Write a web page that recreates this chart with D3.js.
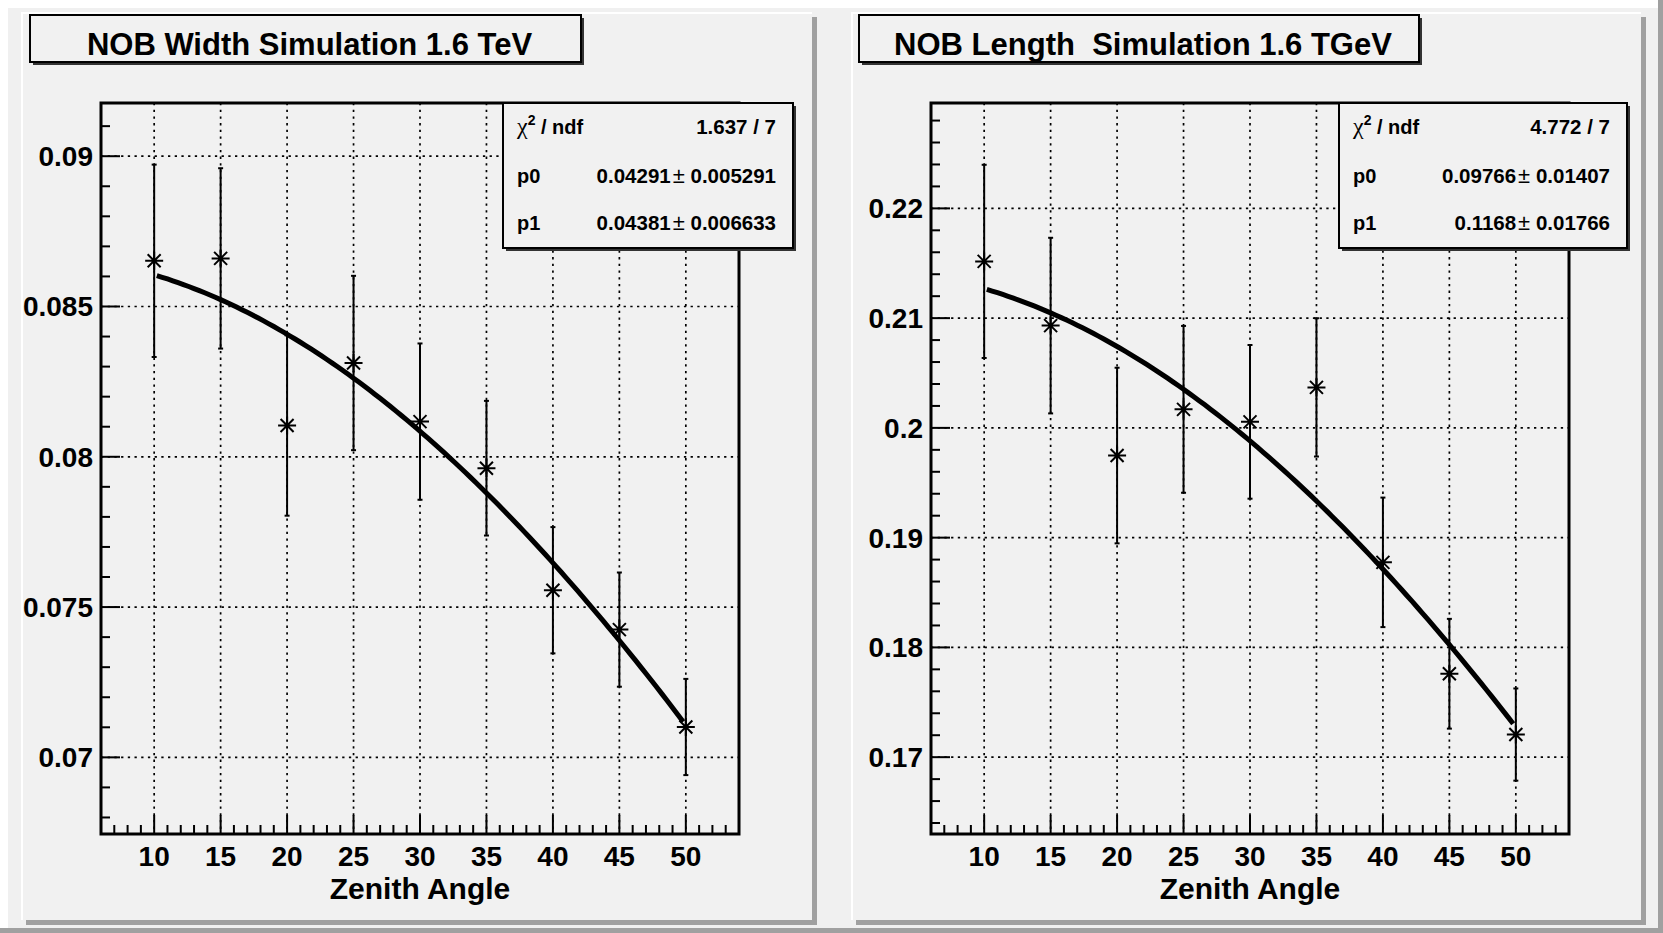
<!DOCTYPE html>
<html>
<head>
<meta charset="utf-8">
<script src="https://cdn.jsdelivr.net/npm/d3@7"></script>
<style>
  body { margin: 0; background: #ffffff; }
  text { font-family: "Liberation Sans", Arial, sans-serif; font-weight: bold; fill: #000; }
</style>
</head>
<body>
<svg id="chart" width="1663" height="933"></svg>
<script>
// zenith angles (deg) and tick labels
const angles = [10, 15, 20, 25, 30, 35, 40, 45, 50];
const xTickLabels = [10, 15, 20, 25, 30, 35, 40, 45, 50];

// NOB width
const widthValues = [0.08652, 0.08660, 0.08104, 0.08312, 0.08117, 0.07962, 0.07556, 0.07425, 0.07101];
const widthErrors = [0.0032, 0.0030, 0.0030, 0.0029, 0.0026, 0.00224, 0.0021, 0.0019, 0.0016];
const widthYTicks = [0.07, 0.075, 0.08, 0.085, 0.09];
const widthFitPars = [0.04291, 0.04381];   // p0 + p1*cos(theta)
const widthStats = [["1.637 / 7"], ["0.04291", "0.005291"], ["0.04381", "0.006633"]];

// NOB length
const lengthValues = [0.21517, 0.20932, 0.19748, 0.20169, 0.20055, 0.20369, 0.18775, 0.17760, 0.17206];
const lengthErrors = [0.0088, 0.0080, 0.0080, 0.0076, 0.0070, 0.0063, 0.0059, 0.0050, 0.0042];
const lengthYTicks = [0.17, 0.18, 0.19, 0.2, 0.21, 0.22];
const lengthFitPars = [0.09766, 0.1168];
const lengthStats = [["4.772 / 7"], ["0.09766", "0.01407"], ["0.1168", "0.01766"]];

const svg = d3.select("#chart");
const W = 1663, H = 933;

// canvas with bevel
svg.append("rect").attr("width", W).attr("height", H).attr("fill", "#f0f0f0");
svg.append("rect").attr("width", W).attr("height", 8).attr("fill", "#ffffff");
svg.append("rect").attr("width", 8).attr("height", H).attr("fill", "#ffffff");
svg.append("rect").attr("x", 0).attr("y", H - 5).attr("width", W).attr("height", 5).attr("fill", "#a0a0a0");
svg.append("rect").attr("x", W - 5).attr("y", 0).attr("width", 5).attr("height", H).attr("fill", "#a0a0a0");

function drawPanel(cfg) {
    let g = svg.append("g");
    let pad = cfg.pad;

    // pad with bevel
    g.append("rect").attr("x", pad.x + 5).attr("y", pad.y + 5).attr("width", pad.w).attr("height", pad.h).attr("fill", "#a0a0a0");
    g.append("rect").attr("x", pad.x).attr("y", pad.y).attr("width", pad.w).attr("height", pad.h).attr("fill", "#f1f1f1");
    g.append("path").attr("d", `M${pad.x + 1},${pad.y + pad.h}V${pad.y + 1}H${pad.x + pad.w}`)
        .attr("fill", "none").attr("stroke", "#ffffff").attr("stroke-width", 2);

    // title box
    let tb = cfg.titleBox;
    g.append("rect").attr("x", tb.x + 3).attr("y", tb.y + 3).attr("width", tb.w).attr("height", tb.h).attr("fill", "#333");
    g.append("rect").attr("x", tb.x).attr("y", tb.y).attr("width", tb.w).attr("height", tb.h)
        .attr("fill", "#f1f1f1").attr("stroke", "#000").attr("stroke-width", 2);
    g.append("text").attr("x", tb.x + tb.w / 2 + 4).attr("y", tb.y + 40)
        .attr("text-anchor", "middle").style("font-size", "31px").style("white-space", "pre")
        .text(cfg.title);

    let f = cfg.frame;
    let xScale = d3.scaleLinear().domain([6, 54]).range([f.x, f.x + f.w]);
    let yScale = d3.scaleLinear().domain(cfg.yDomain).range([f.y + f.h, f.y]);

    // grid (dotted)
    g.selectAll(".gx").data(xTickLabels).join("line")
        .attr("x1", d => xScale(d)).attr("x2", d => xScale(d))
        .attr("y1", f.y).attr("y2", f.y + f.h)
        .attr("stroke", "#000").attr("stroke-width", 1.7).attr("stroke-dasharray", "2.3,4.4");
    g.selectAll(".gy").data(cfg.yTicks).join("line")
        .attr("x1", f.x).attr("x2", f.x + f.w)
        .attr("y1", d => yScale(d)).attr("y2", d => yScale(d))
        .attr("stroke", "#000").attr("stroke-width", 1.7).attr("stroke-dasharray", "2.3,4.4");

    // minor + major ticks (inward)
    let xMinor = xScale.ticks(48);
    g.selectAll(".tx").data(xMinor).join("line")
        .attr("x1", d => xScale(d)).attr("x2", d => xScale(d))
        .attr("y1", f.y + f.h).attr("y2", d => f.y + f.h - (d % 5 === 0 ? 19 : 9))
        .attr("stroke", "#000").attr("stroke-width", 2);
    let yMinor = yScale.ticks(cfg.minorCount);
    g.selectAll(".ty").data(yMinor).join("line")
        .attr("x1", f.x).attr("x2", d => f.x + (cfg.yTicks.some(t => Math.abs(t - d) < 1e-9) ? 19 : 9))
        .attr("y1", d => yScale(d)).attr("y2", d => yScale(d))
        .attr("stroke", "#000").attr("stroke-width", 2);

    // frame
    g.append("rect").attr("x", f.x).attr("y", f.y).attr("width", f.w).attr("height", f.h)
        .attr("fill", "none").attr("stroke", "#000").attr("stroke-width", 3);

    // tick labels
    g.selectAll(".lx").data(xTickLabels).join("text")
        .attr("x", d => xScale(d)).attr("y", f.y + f.h + 32)
        .attr("text-anchor", "middle").style("font-size", "28px")
        .text(d => d);
    g.selectAll(".ly").data(cfg.yTicks).join("text")
        .attr("x", f.x - 8).attr("y", d => yScale(d) + 10)
        .attr("text-anchor", "end").style("font-size", "28px")
        .text(d => String(d));

    // axis title
    g.append("text").attr("x", f.x + f.w / 2).attr("y", f.y + f.h + 65)
        .attr("text-anchor", "middle").style("font-size", "30px")
        .text("Zenith Angle");

    // fit curve p0 + p1*cos(theta)
    let p0 = cfg.fit[0], p1 = cfg.fit[1];
    let fitX = d3.range(10.2, 49.81, 0.4);
    let line = d3.line()
        .x(d => xScale(d))
        .y(d => yScale(p0 + p1 * Math.cos(d * Math.PI / 180)));

    // error bars
    let pts = angles.map((a, i) => ({x: a, y: cfg.values[i], e: cfg.errors[i]}));
    let eb = g.selectAll(".eb").data(pts).join("g");
    eb.append("line")
        .attr("x1", d => xScale(d.x)).attr("x2", d => xScale(d.x))
        .attr("y1", d => yScale(d.y - d.e)).attr("y2", d => yScale(d.y + d.e))
        .attr("stroke", "#000").attr("stroke-width", 2);
    eb.append("line")
        .attr("x1", d => xScale(d.x) - 2.5).attr("x2", d => xScale(d.x) + 2.5)
        .attr("y1", d => yScale(d.y + d.e)).attr("y2", d => yScale(d.y + d.e))
        .attr("stroke", "#000").attr("stroke-width", 2);
    eb.append("line")
        .attr("x1", d => xScale(d.x) - 2.5).attr("x2", d => xScale(d.x) + 2.5)
        .attr("y1", d => yScale(d.y - d.e)).attr("y2", d => yScale(d.y - d.e))
        .attr("stroke", "#000").attr("stroke-width", 2);

    g.append("path").datum(fitX).attr("d", line)
        .attr("fill", "none").attr("stroke", "#000").attr("stroke-width", 5);

    // asterisk markers
    let s = 9, s2 = 6.5;
    g.selectAll(".mk").data(pts).join("path")
        .attr("transform", d => `translate(${xScale(d.x)},${yScale(d.y)})`)
        .attr("d", `M${-s},0H${s}M0,${-s}V${s}M${-s2},${-s2}L${s2},${s2}M${-s2},${s2}L${s2},${-s2}`)
        .attr("fill", "none").attr("stroke", "#000").attr("stroke-width", 2);

    // stats box
    let sb = cfg.statBox;
    g.append("rect").attr("x", sb.x + 3).attr("y", sb.y + 3).attr("width", sb.w).attr("height", sb.h).attr("fill", "#333");
    g.append("rect").attr("x", sb.x).attr("y", sb.y).attr("width", sb.w).attr("height", sb.h)
        .attr("fill", "#f1f1f1").attr("stroke", "#000").attr("stroke-width", 2);

    let rowY = [sb.y + 31, sb.y + 80, sb.y + 127];
    let lx = sb.x + 14, rx = sb.x + sb.w - 17;

    let chi = g.append("text").attr("x", lx).attr("y", rowY[0]).style("font-size", "20px");
    chi.append("tspan").text("χ").style("font-family", "'Liberation Serif', serif").style("font-weight", "normal").style("font-size", "24px");
    chi.append("tspan").text("2").attr("dy", -9).style("font-size", "14px");
    chi.append("tspan").text(" / ndf").attr("dy", 9);
    g.append("text").attr("x", rx).attr("y", rowY[0]).attr("text-anchor", "end")
        .style("font-size", "20.5px").text(cfg.stats[0][0]);

    ["p0", "p1"].forEach((name, k) => {
        g.append("text").attr("x", lx).attr("y", rowY[k + 1]).style("font-size", "20px").text(name);
        let t = g.append("text").attr("x", rx).attr("y", rowY[k + 1]).attr("text-anchor", "end")
            .style("font-size", "20.5px").style("white-space", "pre");
        t.append("tspan").text(cfg.stats[k + 1][0]);
        t.append("tspan").text("±").attr("dx", 2).style("font-weight", "normal").style("font-size", "22px");
        t.append("tspan").text(" " + cfg.stats[k + 1][1]);
    });
}

drawPanel({
    pad: {x: 21, y: 12, w: 791, h: 908},
    titleBox: {x: 30, y: 15, w: 551, h: 47},
    frame: {x: 101, y: 103, w: 638, h: 731},
    statBox: {x: 503, y: 103, w: 290, h: 145},
    yDomain: [0.06745, 0.09177],
    yTicks: widthYTicks,
    minorCount: 25,
    title: "NOB Width Simulation 1.6 TeV",
    values: widthValues,
    errors: widthErrors,
    fit: widthFitPars,
    stats: widthStats
});

drawPanel({
    pad: {x: 851, y: 12, w: 790, h: 908},
    titleBox: {x: 859, y: 15, w: 560, h: 47},
    frame: {x: 931, y: 103, w: 638, h: 731},
    statBox: {x: 1339, y: 103, w: 288, h: 145},
    yDomain: [0.163, 0.2296],
    yTicks: lengthYTicks,
    minorCount: 33,
    title: "NOB Length  Simulation 1.6 TGeV",
    values: lengthValues,
    errors: lengthErrors,
    fit: lengthFitPars,
    stats: lengthStats
});
</script>
</body>
</html>
